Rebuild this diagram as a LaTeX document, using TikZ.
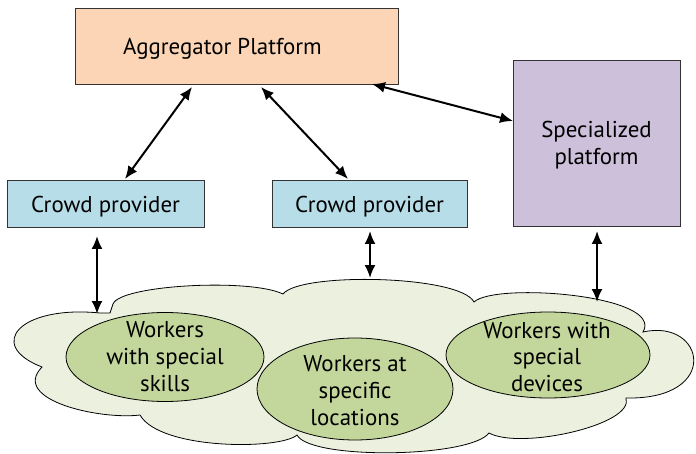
\documentclass[tikz,border=0pt]{standalone}
\usepackage{fontspec}
\setmainfont{PT Sans}
\usetikzlibrary{arrows.meta,shapes.geometric}
\definecolor{peach}{HTML}{FBD5B5}
\definecolor{lblue}{HTML}{B7DEE8}
\definecolor{lav}{HTML}{CCC0DA}
\definecolor{cloudc}{HTML}{EBF1DE}
\definecolor{ellc}{HTML}{C3D69B}
\tikzset{
  boxstyle/.style={draw=black!80, line width=0.8pt, rectangle, inner sep=0pt},
  txt/.style={font=\fontsize{23}{27}\selectfont, align=center, inner sep=0pt},
  ellstyle/.style={draw=black, line width=0.8pt, ellipse, fill=ellc, inner sep=0pt},
  conn/.style={line width=2pt, {Latex[length=13pt,width=11pt]}-{Latex[length=13pt,width=11pt]}},
}
\begin{document}
\begin{tikzpicture}[x=1bp,y=-1bp]
\useasboundingbox (0,0) rectangle (696,454);
% cloud
\draw[fill=cloudc, line width=0.8pt]
  (113,304) .. controls (120,285) and (250,278) .. (283,294)
  .. controls (300,272) and (460,275) .. (474,302)
  .. controls (495,282) and (665,295) .. (643,332)
  .. controls (705,318) and (722,400) .. (626,398)
  .. controls (635,425) and (520,450) .. (489,433)
  .. controls (470,458) and (310,460) .. (297,435)
  .. controls (280,450) and (160,450) .. (140,415)
  .. controls (100,420) and (10,400) .. (42,367)
  .. controls (-15,345) and (20,305) .. (100,313)
  -- (110,313) -- cycle;
% boxes
\node[boxstyle, fill=peach, minimum width=323bp, minimum height=76bp] (agg) at (236.5,46) {};
\node[txt] (aggt) at (222.5,49) {Aggregator Platform};
\node[boxstyle, fill=lblue, minimum width=197bp, minimum height=47bp] (cp1) at (105.5,203.5) {};
\node[txt] (cp1t) at (105.5,206.5) {Crowd provider};
\node[boxstyle, fill=lblue, minimum width=195bp, minimum height=47bp] (cp2) at (369.5,203.5) {};
\node[txt] (cp2t) at (369.5,206.5) {Crowd provider};
\node[boxstyle, fill=lav, minimum width=167bp, minimum height=166bp] (spec) at (596.5,143) {};
\node[txt] (spect) at (596.5,145.5) {Specialized\\platform};
% ellipses
\node[ellstyle, minimum width=198bp, minimum height=89bp] (e1) at (165,357) {};
\node[txt] (e1t) at (165,357) {Workers\\with special\\skills};
\node[ellstyle, minimum width=196bp, minimum height=102bp] (e2) at (355,389) {};
\node[txt] (e2t) at (355,391) {Workers at\\specific\\locations};
\node[ellstyle, minimum width=204bp, minimum height=86bp] (e3) at (548,355) {};
\node[txt] (e3t) at (547,357) {Workers with\\special\\devices};
% connector ends
\coordinate (a1s) at (192,87);
\coordinate (a1e) at (125,179);
\coordinate (a2s) at (261,87);
\coordinate (a2e) at (348,179);
\coordinate (a3s) at (372,84);
\coordinate (a3e) at (513,121);
\coordinate (a4s) at (97,236);
\coordinate (a4e) at (97,314);
\coordinate (a5s) at (370,231);
\coordinate (a5e) at (370,278);
\coordinate (a6s) at (597,231);
\coordinate (a6e) at (597,302);
\draw[conn] (a1s) -- (a1e);
\draw[conn] (a2s) -- (a2e);
\draw[conn] (a3s) -- (a3e);
\draw[conn] (a4s) -- (a4e);
\draw[conn] (a5s) -- (a5e);
\draw[conn] (a6s) -- (a6e);
\end{tikzpicture}
\end{document}
